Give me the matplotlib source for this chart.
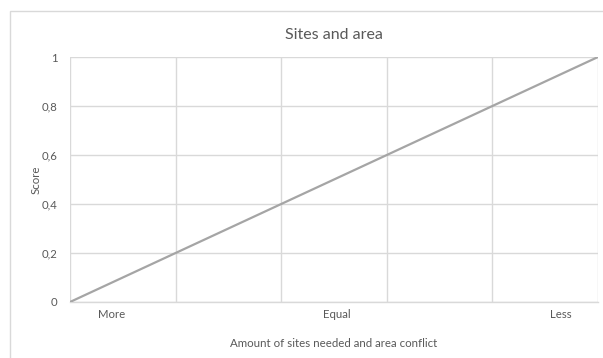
import matplotlib
matplotlib.use("Agg")
import matplotlib.pyplot as plt
from matplotlib.patches import Rectangle

# Score against the amount of sites needed / area conflict
x_values = [0.0, 1.0]
scores = [0.0, 1.0]
category_labels = ["More", "Equal", "Less"]
category_positions = [0.078, 0.505, 0.93]
y_ticks = [0, 0.2, 0.4, 0.6, 0.8, 1]
y_tick_labels = ["0", "0,2", "0,4", "0,6", "0,8", "1"]
x_grid = [0, 0.2, 0.4, 0.6, 0.8, 1.0]

TEXT = "#595959"
GRID = "#d9d9d9"
LINE = "#a5a5a5"

plt.rcParams["font.family"] = ["Lato", "DejaVu Sans"]

W, H = 603, 358
fig = plt.figure(figsize=(W / 100, H / 100), dpi=100)
fig.patch.set_facecolor("white")

# chart area border
fig.add_artist(Rectangle((9.5 / W, -0.2), 1.2, (H - 10.5) / H + 0.2,
                         transform=fig.transFigure, fill=False,
                         edgecolor=GRID, linewidth=1.0))

ax = fig.add_axes([70 / W, (H - 302) / H, (598 - 70) / W, (302 - 57) / H])
ax.set_xlim(0, 1)
ax.set_ylim(0, 1)

for gx in x_grid:
    ax.axvline(gx, color=GRID, linewidth=1.0, zorder=1)
ax.set_yticks(y_ticks)
ax.set_yticklabels(y_tick_labels)
ax.yaxis.grid(True, color=GRID, linewidth=1.0)
ax.set_axisbelow(True)

ax.plot(x_values, scores, color=LINE, linewidth=1.6, zorder=3,
        solid_capstyle="round")

ax.set_xticks(category_positions)
ax.set_xticklabels(category_labels)
ax.tick_params(axis="both", length=0, colors=TEXT, labelsize=8.2)
ax.tick_params(axis="x", pad=5)
ax.tick_params(axis="y", pad=9)

for side in ["top", "right", "left"]:
    ax.spines[side].set_visible(False)
ax.spines["bottom"].set_color(GRID)
ax.spines["bottom"].set_linewidth(1.0)

ax.set_title("Sites and area", color=TEXT, fontsize=11.5, pad=13)
ax.set_xlabel("Amount of sites needed and area conflict", color=TEXT,
              fontsize=8.3, labelpad=13)
ax.set_ylabel("Score", color=TEXT, fontsize=8.3, labelpad=0)

fig.savefig("out.png", dpi=100, facecolor="white")
